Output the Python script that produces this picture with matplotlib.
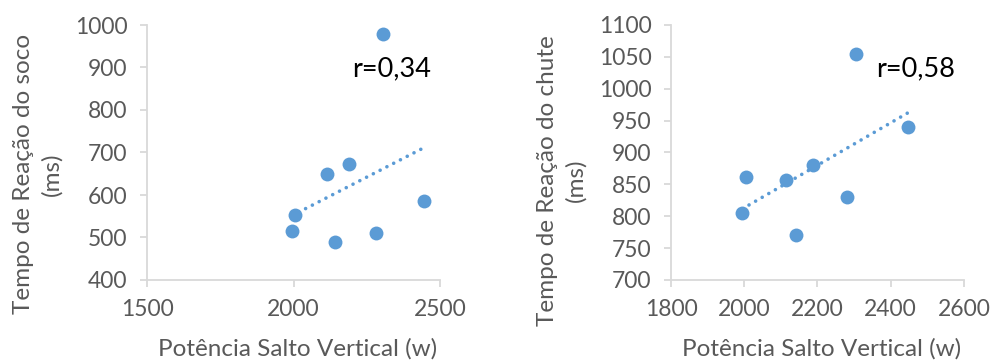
import numpy as np
import matplotlib
matplotlib.use("Agg")
import matplotlib.pyplot as plt

# valores
potencia = [1995, 2006, 2114, 2142, 2188, 2280, 2305, 2447]
tempo_soco = [515, 552, 649, 489, 672, 511, 978, 585]
tempo_chute = [805, 862, 857, 770, 881, 830, 1054, 940]

r_soco = "r=0,34"
r_chute = "r=0,58"

AZUL = "#5B9BD5"
CINZA_EIXO = "#D9D9D9"
CINZA_TEXTO = "#595959"

plt.rcParams["font.family"] = ["Lato", "DejaVu Sans"]


def painel(ax, x, y, xlim, xticks, ylim, yticks, ylabel, rotulo, pos_r, ylab_y):
    ax.scatter(x, y, s=100, color=AZUL, zorder=3, linewidths=0)
    # linha de tendência linear (como no Excel)
    coef = np.polyfit(x, y, 1)
    xs = np.array([min(x), max(x)])
    ax.plot(xs, np.polyval(coef, xs), color=AZUL, linestyle=(0, (0.01, 2.1)),
            linewidth=2.6, dash_capstyle="round", zorder=2)
    ax.set_xlim(*xlim)
    ax.set_ylim(*ylim)
    ax.set_xticks(xticks)
    ax.set_yticks(yticks)
    for lado in ["top", "right"]:
        ax.spines[lado].set_visible(False)
    for lado in ["left", "bottom"]:
        ax.spines[lado].set_color(CINZA_EIXO)
        ax.spines[lado].set_linewidth(1.3)
    ax.tick_params(axis="both", colors=CINZA_EIXO, labelcolor=CINZA_TEXTO,
                   labelsize=16.5, length=5, width=1.3, pad=9)
    ax.set_xlabel("Potência Salto Vertical (w)", fontsize=17.5, color=CINZA_TEXTO)
    ax.xaxis.set_label_coords(0.514, -0.27)
    ax.xaxis.label.set_va("center")
    ax.set_ylabel(ylabel, fontsize=17.5, color=CINZA_TEXTO, linespacing=1.4)
    ax.yaxis.set_label_coords(-0.373, ylab_y)
    ax.yaxis.label.set_va("center")
    ax.text(pos_r[0], pos_r[1], rotulo, fontsize=19.5, color="black", va="center", ha="left")


fig = plt.figure(figsize=(9.92, 3.63), dpi=100)
ax1 = fig.add_axes([147 / 992, 83 / 363, 293 / 992, 255 / 363])
ax2 = fig.add_axes([671 / 992, 83 / 363, 293 / 992, 255 / 363])

painel(ax1, potencia, tempo_soco, (1500, 2500), [1500, 2000, 2500],
       (400, 1000), range(400, 1001, 100),
       "Tempo de Reação do soco\n(ms)", r_soco, (2199, 896), 0.415)
painel(ax2, potencia, tempo_chute, (1800, 2600), range(1800, 2601, 200),
       (700, 1100), range(700, 1101, 50),
       "Tempo de Reação do chute\n(ms)", r_chute, (2359, 1031), 0.39)

fig.savefig("out.png", dpi=100)
